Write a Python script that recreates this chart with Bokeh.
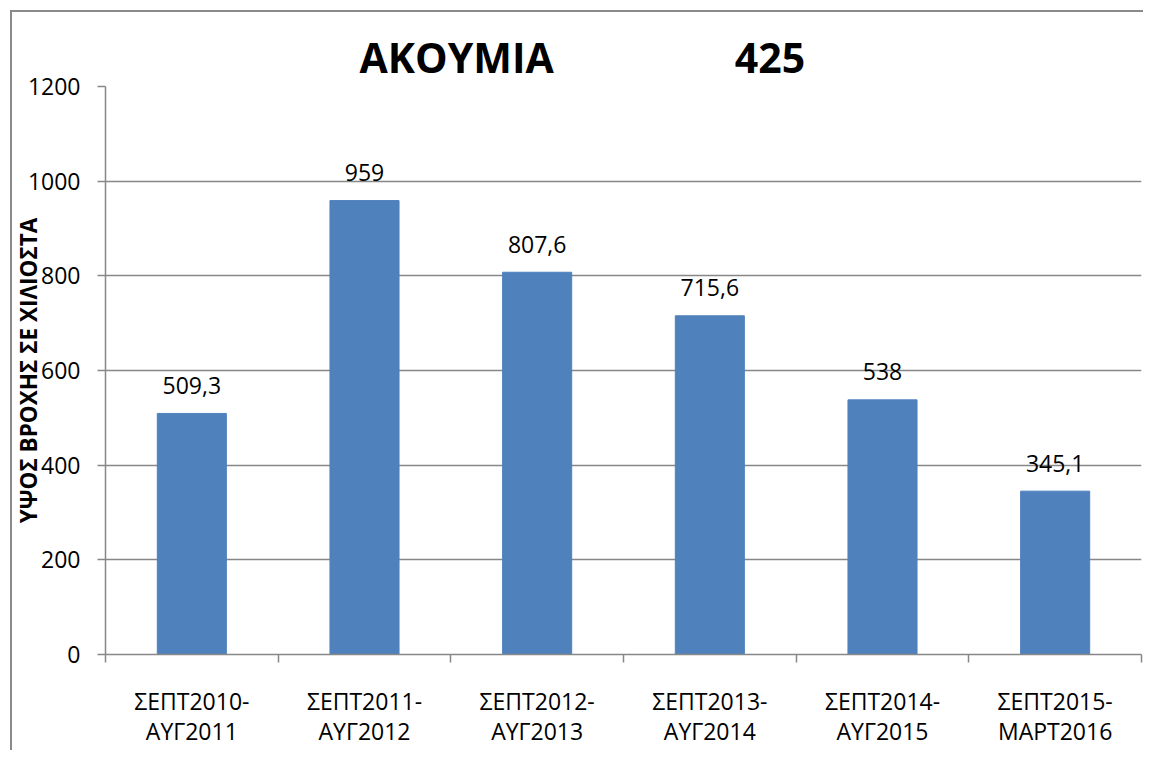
from bokeh.plotting import figure
from bokeh.models import Range1d, FixedTicker, ColumnDataSource
from bokeh.embed import file_html
from bokeh.resources import INLINE
from bokeh.core.properties import value

categories = ["ΣΕΠΤ2010-\nΑΥΓ2011", "ΣΕΠΤ2011-\nΑΥΓ2012", "ΣΕΠΤ2012-\nΑΥΓ2013",
              "ΣΕΠΤ2013-\nΑΥΓ2014", "ΣΕΠΤ2014-\nΑΥΓ2015", "ΣΕΠΤ2015-\nΜΑΡΤ2016"]
rain_mm = [509.3, 959, 807.6, 715.6, 538, 345.1]
y_ticks = [0, 200, 400, 600, 800, 1000, 1200]
title_left = "ΑΚΟΥΜΙΑ"
title_right = "425"
y_label = "ΥΨΟΣ ΒΡΟΧΗΣ ΣΕ ΧΙΛΙΟΣΤΑ"

FONT = "Open Sans"
GRID = "#878787"
BAR = "#4F81BD"

xs = [i + 0.5 for i in range(len(categories))]
labels = [("%g" % v).replace(".", ",") for v in rain_mm]
src = ColumnDataSource(dict(x=xs, top=rain_mm, lab=labels))

p = figure(width=1143, height=750, output_backend="svg", toolbar_location=None,
           x_range=Range1d(0, len(categories)), y_range=Range1d(0, 1200),
           min_border_left=105, min_border_right=2, min_border_top=86, min_border_bottom=93,
           title=title_left + "\u00a0" * 17 + title_right)
p.outline_line_color = None
p.background_fill_color = "white"
p.border_fill_color = None
p.styles = {
    "background-color": "white",
    "background-image": "linear-gradient(#8a8a8a,#8a8a8a), linear-gradient(#8a8a8a,#8a8a8a)",
    "background-size": "2px 100%, 100% 2px",
    "background-position": "10px 10px, 10px 10px",
    "background-repeat": "no-repeat",
}

p.title.text_font = FONT
p.title.text_font_size = "41px"
p.title.text_font_style = "bold"
p.title.text_color = "#000000"
p.title.align = "left"
p.title.offset = 254
p.title.standoff = 4

p.vbar(x="x", top="top", width=0.4, bottom=0, source=src, fill_color=BAR, line_color=BAR)
p.text(x="x", y="top", text="lab", source=src, text_align="center", text_baseline="alphabetic",
       y_offset=-28, text_font=value(FONT), text_font_size="23px", text_color="#000000")

# axes
p.xgrid.grid_line_color = None
p.ygrid.grid_line_color = GRID
p.ygrid.grid_line_width = 1.5
p.yaxis.ticker = FixedTicker(ticks=y_ticks)
p.yaxis.axis_line_color = GRID
p.yaxis.axis_line_width = 1.5
p.yaxis.major_tick_line_color = GRID
p.yaxis.major_tick_line_width = 1.5
p.yaxis.major_tick_out = 8
p.yaxis.major_tick_in = 0
p.yaxis.minor_tick_line_color = None
p.yaxis.major_label_standoff = 17
p.yaxis.major_label_text_font = FONT
p.yaxis.major_label_text_font_size = "23px"
p.yaxis.major_label_text_color = "#000000"
p.yaxis.axis_label = y_label
p.yaxis.axis_label_text_font = FONT
p.yaxis.axis_label_text_font_size = "22.5px"
p.yaxis.axis_label_text_font_style = "bold"
p.yaxis.axis_label_text_color = "#000000"
p.yaxis.axis_label_standoff = -19

p.xaxis.ticker = FixedTicker(ticks=xs, minor_ticks=list(range(len(categories) + 1)))
p.xaxis.major_label_overrides = {x: c for x, c in zip(xs, categories)}
p.xaxis.axis_line_color = GRID
p.xaxis.axis_line_width = 1.5
p.xaxis.major_tick_line_color = None
p.xaxis.major_tick_out = 0
p.xaxis.major_tick_in = 0
p.xaxis.minor_tick_line_color = GRID
p.xaxis.minor_tick_line_width = 1.5
p.xaxis.minor_tick_out = 8
p.xaxis.minor_tick_in = 0
p.xaxis.major_label_standoff = 22
p.xaxis.major_label_text_font = FONT
p.xaxis.major_label_text_font_size = "23px"
p.xaxis.major_label_text_color = "#000000"
p.xaxis.major_label_text_line_height = 0.96

open("out.html", "w").write(file_html(p, INLINE))
